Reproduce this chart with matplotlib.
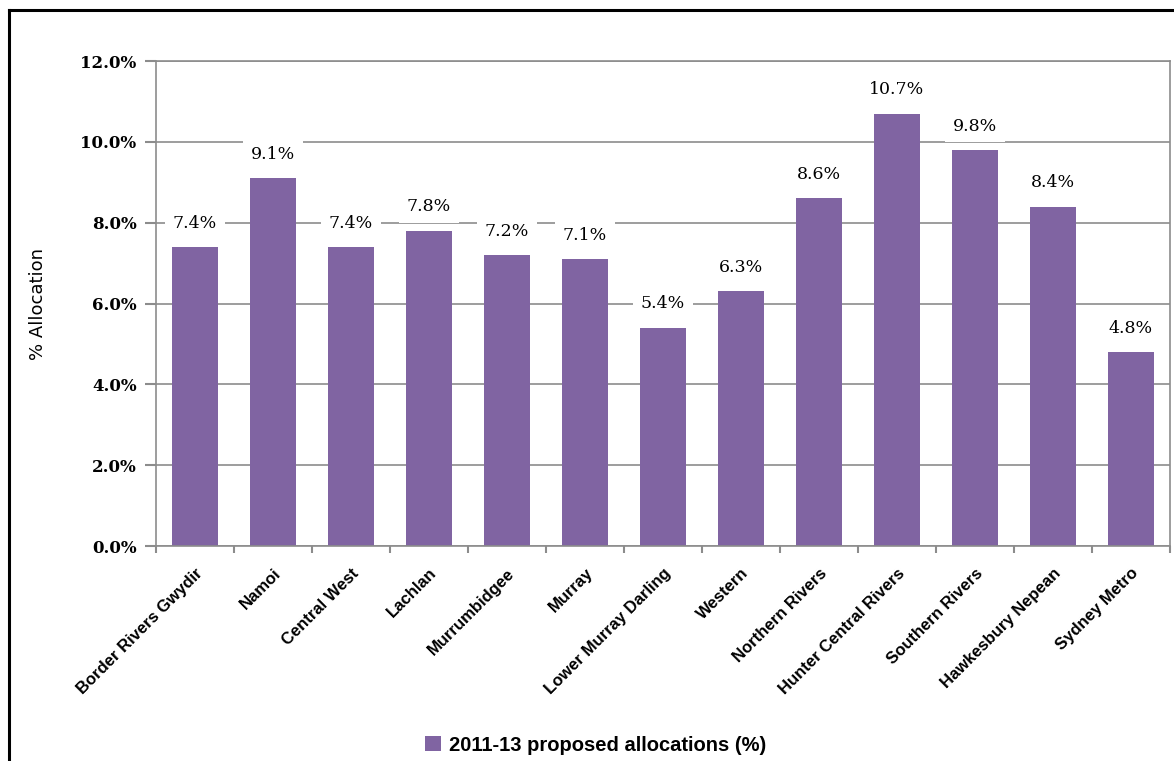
import matplotlib
matplotlib.use("Agg")
import matplotlib.pyplot as plt
from matplotlib.lines import Line2D
from matplotlib.patches import Patch
from matplotlib.ticker import FuncFormatter
import numpy as np

regions = ["Border Rivers Gwydir", "Namoi", "Central West", "Lachlan",
           "Murrumbidgee", "Murray", "Lower Murray Darling", "Western",
           "Northern Rivers", "Hunter Central Rivers", "Southern Rivers",
           "Hawkesbury Nepean", "Sydney Metro"]
allocation = [7.4, 9.1, 7.4, 7.8, 7.2, 7.1, 5.4, 6.3, 8.6, 10.7, 9.8, 8.4, 4.8]
series_name = "2011-13 proposed allocations (%)"

purple = "#8064A2"
grid_grey = "#8C8C8C"

fig = plt.figure(figsize=(11.74, 7.61), dpi=100)
ax = fig.add_axes([0.1329, 0.2825, 0.8637, 0.6373])

x = np.arange(len(regions))
ax.bar(x, allocation, width=0.59, color=purple, zorder=2)

for xi, v in zip(x, allocation):
    ax.text(xi, v + 0.38, f"{v:.1f}%", ha="center", va="bottom",
            fontsize=12.5, family="DejaVu Serif", zorder=4,
            bbox=dict(facecolor="white", edgecolor="none", pad=5.5))

ax.set_xlim(-0.5, len(regions) - 0.5)
ax.set_ylim(0, 12)
ax.set_yticks(np.arange(0, 12.1, 2))
ax.yaxis.set_major_formatter(FuncFormatter(lambda v, p: f"{v:.1f}%"))
ax.yaxis.grid(True, color=grid_grey, linewidth=1.2, zorder=0)
ax.set_axisbelow(True)

# category boundaries carry the tick marks, labels sit under the bars
ax.set_xticks(np.arange(-0.5, len(regions), 1))
ax.set_xticklabels([])
ax.tick_params(axis="x", which="major", length=5, width=1.5, color=grid_grey)
ax.set_xticks(x, minor=True)
ax.set_xticklabels(regions, minor=True, rotation=45, ha="right",
                   rotation_mode="anchor", fontsize=12, fontweight="bold",
                   family="Liberation Sans")
ax.tick_params(axis="x", which="minor", length=0, pad=14)

ax.tick_params(axis="y", length=8, width=1.5, color=grid_grey, pad=6)
for lab in ax.get_yticklabels():
    lab.set_fontweight("bold")
    lab.set_fontsize(12)
    lab.set_family("DejaVu Serif")

for s in ax.spines.values():
    s.set_color(grid_grey)
    s.set_linewidth(1.2)

ax.set_ylabel("% Allocation", fontsize=13, labelpad=24)

handle = Patch(facecolor=purple, edgecolor="none")
fig.legend([handle], [series_name], loc="center", bbox_to_anchor=(0.507, 0.021),
           frameon=False, handlelength=0.8, handleheight=0.8, handletextpad=0.4,
           prop={"weight": "bold", "size": 14.5, "family": "Liberation Sans"})

# outer frame
fig.add_artist(Line2D([9 / 1174, 9 / 1174], [0, 1 - 10 / 761],
                      transform=fig.transFigure, color="black", linewidth=2.2))
fig.add_artist(Line2D([9 / 1174, 1], [1 - 10 / 761, 1 - 10 / 761],
                      transform=fig.transFigure, color="black", linewidth=2.2))

fig.savefig("out.png", dpi=100)
